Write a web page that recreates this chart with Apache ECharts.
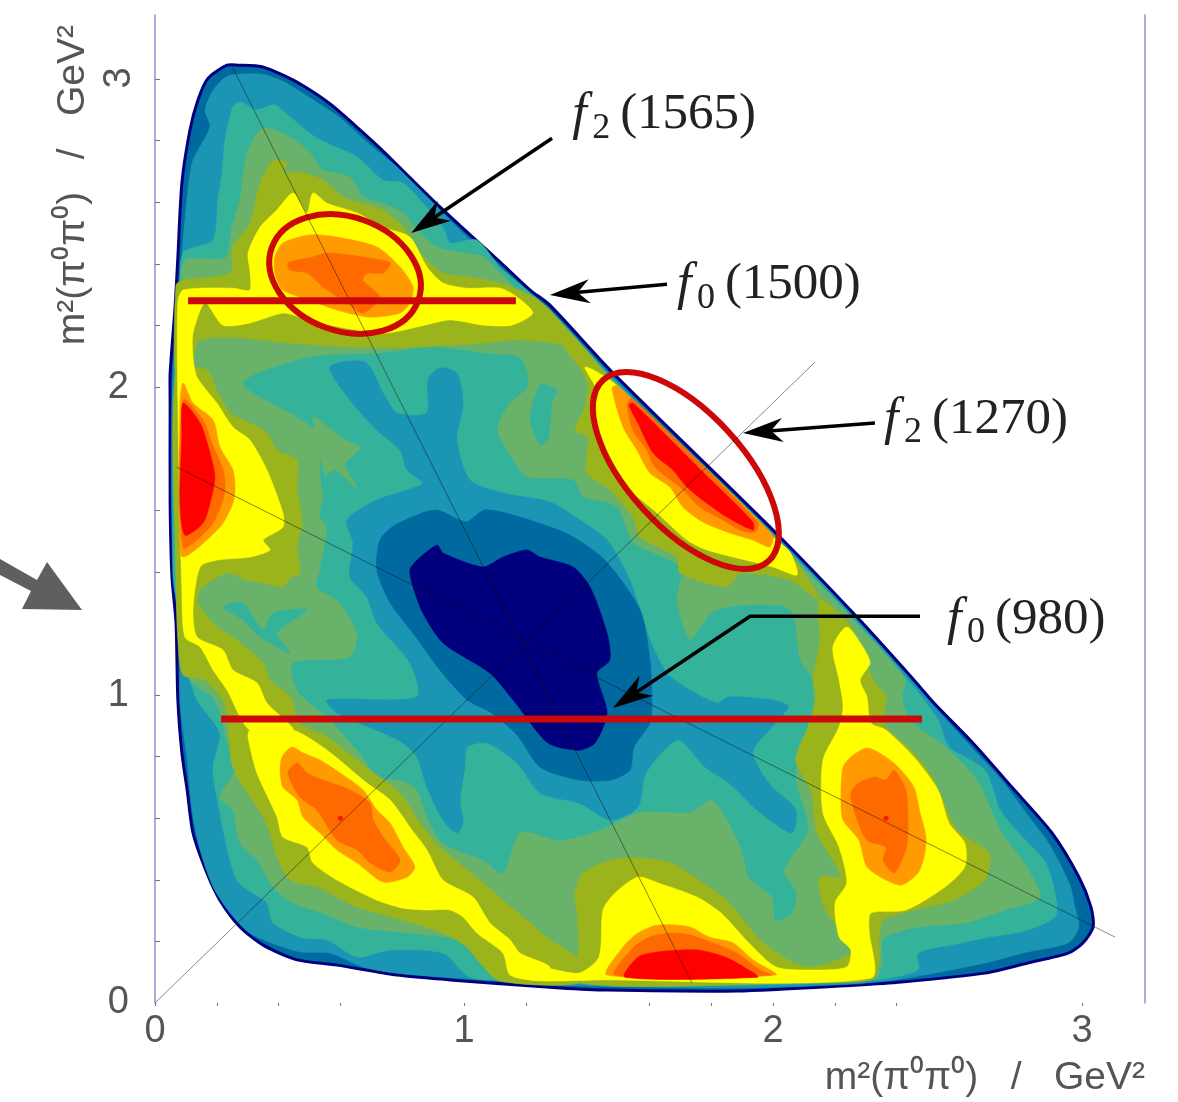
<!DOCTYPE html>
<html><head><meta charset="utf-8">
<style>html,body{margin:0;padding:0;background:#fff}#c{width:1178px;height:1102px}#c canvas{filter:blur(.6px)}</style>
<script src="https://cdn.jsdelivr.net/npm/echarts@6/dist/echarts.min.js"></script>
</head><body><div id="c"></div>
<script>
// Axis ticks
const xTickLabels=[0,1,2,3];
const yTickLabels=[0,1,2];
const xTicks=[0,0.2,0.4,0.6,1,1.2,1.6,1.8,2,2.2,2.4,3];
const yTicks=[0.2,0.4,0.6,0.8,1,1.4,1.6,2,2.2,2.4,2.6,2.8,3];
// Contour bands of the Dalitz plot, in GeV^2 (x = m2, y = m2)
const outerEdge=[[.27,3.045],[.346,3.04],[.42,3.01],[.485,2.975],[.566,2.92],[.647,2.85],[.728,2.776],[.825,2.68],[.922,2.585],[1.02,2.494],[1.117,2.406],[1.214,2.315],[1.278,2.266],[1.479,2.049],[2,1.536],[2.272,1.253],[2.456,1.049],[2.521,.974],[2.647,.844],[2.773,.701],[2.903,.552],[2.99,.409],[3.029,.312],[3.036,.247],[3.003,.195],[2.955,.162],[2.825,.13],[2.686,.097],[2.417,.068],[2.265,.058],[1.883,.039],[1.463,.042],[1.311,.049],[1.084,.065],[.955,.075],[.783,.091],[.589,.123],[.46,.14],[.35,.188],[.275,.247],[.21,.334],[.168,.422],[.123,.552],[.104,.692],[.087,.812],[.074,.984],[.068,1.234],[.055,1.383],[.049,1.623],[.049,1.948],[.049,2.045],[.065,2.26],[.074,2.422],[.087,2.662],[.113,2.834],[.139,2.932],[.172,3.003],[.233,3.045]];
const blueBand=[[.236,3.01],[.346,3.016],[.42,2.99],[.5,2.94],[.6,2.873],[.696,2.786],[.777,2.72],[.858,2.64],[.939,2.558],[1.02,2.477],[1.117,2.386],[1.214,2.295],[1.285,2.244],[1.479,2.036],[2,1.526],[2.272,1.244],[2.456,1.039],[2.521,.964],[2.644,.828],[2.735,.73],[2.832,.6],[2.896,.513],[2.961,.383],[2.977,.312],[2.99,.247],[2.955,.195],[2.825,.166],[2.686,.13],[2.521,.097],[2.392,.075],[2.265,.062],[1.883,.049],[1.311,.058],[1.061,.075],[.783,.097],[.673,.117],[.566,.162],[.469,.166],[.395,.188],[.307,.227],[.243,.292],[.188,.377],[.146,.497],[.12,.627],[.104,.789],[.087,.919],[.081,.984],[.078,1.244],[.058,1.383],[.055,1.958],[.074,2.26],[.091,2.477],[.12,2.727],[.178,2.844],[.162,2.899],[.188,2.964]];
const tealBand=[[.275,2.925],[.33,2.9],[.388,2.916],[.437,2.877],[.524,2.808],[.654,2.747],[.738,2.672],[.803,2.662],[.867,2.597],[.932,2.519],[.955,2.468],[1.042,2.477],[1.117,2.39],[1.278,2.25],[1.479,2.029],[2,1.52],[2.272,1.237],[2.456,1.026],[2.534,.919],[2.57,.831],[2.686,.756],[2.735,.627],[2.786,.562],[2.877,.464],[2.903,.399],[2.916,.286],[2.825,.237],[2.699,.214],[2.608,.195],[2.469,.162],[2.469,.107],[2.33,.075],[1.883,.058],[1.311,.068],[1.172,.075],[1.019,.084],[.932,.162],[.76,.172],[.654,.149],[.557,.205],[.479,.211],[.382,.26],[.362,.325],[.265,.399],[.2,.669],[.188,.766],[.21,.877],[.136,.984],[.097,1.114],[.081,1.244],[.061,1.383],[.061,1.958],[.081,2.25],[.091,2.435],[.188,2.477],[.204,2.607],[.217,2.695],[.227,2.802],[.252,2.909]];
const greenBand=[[.35,2.841],[.437,2.812],[.502,2.76],[.544,2.705],[.631,2.682],[.673,2.617],[.738,2.597],[.803,2.565],[.848,2.51],[.913,2.455],[.997,2.435],[1.062,2.422],[1.172,2.315],[1.278,2.227],[1.479,2.023],[2,1.513],[2.272,1.231],[2.427,1.055],[2.417,.994],[2.443,.919],[2.557,.831],[2.66,.724],[2.735,.562],[2.812,.455],[2.864,.344],[2.751,.302],[2.621,.26],[2.469,.247],[2.392,.227],[2.353,.205],[2.353,.13],[2.33,.078],[1.883,.065],[1.311,.075],[1.181,.081],[1.042,.149],[.977,.205],[.825,.227],[.654,.247],[.544,.292],[.447,.325],[.382,.377],[.33,.464],[.275,.519],[.252,.627],[.21,.669],[.265,.766],[.233,.854],[.194,.984],[.113,1.049],[.091,1.146],[.081,1.244],[.068,1.373],[.068,1.958],[.087,2.283],[.097,2.412],[.227,2.419],[.249,2.519],[.275,2.607],[.298,2.76]];
const tealInner=[[.285,2.013],[.502,2.097],[.738,2.11],[.9,2.13],[1.062,2.11],[1.181,2.094],[1.207,2.006],[1.142,1.942],[1.107,1.86],[1.149,1.779],[1.204,1.708],[1.353,1.698],[1.385,1.643],[1.495,1.61],[1.547,1.494],[1.699,1.416],[1.689,1.308],[1.731,1.179],[1.806,1.269],[1.926,1.292],[2.055,1.276],[2.087,1.114],[2.126,1.049],[2.126,.896],[2.087,.831],[2.074,.724],[2.113,.562],[2.036,.432],[2.074,.357],[2.061,.292],[2.01,.269],[1.997,.344],[1.922,.409],[1.896,.506],[1.806,.659],[1.731,.62],[1.57,.62],[1.44,.562],[1.311,.529],[1.181,.555],[1.126,.422],[1.062,.464],[.932,.519],[.88,.604],[.848,.692],[.793,.724],[.718,.734],[.673,.799],[.566,.919],[.502,.974],[.46,1.016],[.447,1.104],[.631,1.123],[.654,1.201],[.589,1.308],[.524,1.351],[.534,1.406],[.557,1.545],[.534,1.578],[.544,1.643],[.534,1.731],[.544,1.838],[.46,1.903]];
const tealIsland=[[.22,1.286],[.285,1.299],[.35,1.211],[.382,1.266],[.492,1.276],[.395,1.201],[.437,1.136],[.34,1.188],[.285,1.244]];
const tealIslandUpper=[[1.246,2.006],[1.301,1.99],[1.285,1.951],[1.272,1.828],[1.246,1.812],[1.214,1.893]];
const blueInner=[[.566,2.065],[.68,2.081],[.738,1.981],[.783,1.916],[.88,1.916],[.883,2.023],[.922,2.062],[.977,2.045],[.997,1.948],[.977,1.828],[1.019,1.698],[1.126,1.656],[1.278,1.627],[1.375,1.568],[1.463,1.503],[1.537,1.373],[1.602,1.179],[1.657,1.071],[1.731,1.016],[1.819,.974],[1.858,.994],[1.997,.984],[2.049,.961],[1.935,.821],[1.958,.756],[1.997,.701],[2.074,.627],[2.061,.552],[1.948,.627],[1.858,.714],[1.78,.766],[1.693,.854],[1.589,.747],[1.563,.636],[1.476,.594],[1.372,.649],[1.246,.682],[1.172,.779],[1.074,.844],[1.01,.831],[1.003,.766],[.987,.659],[.997,.584],[.977,.552],[.932,.594],[.88,.701],[.848,.799],[.803,.844],[.738,.877],[.589,.942],[.557,.984],[.848,.994],[.825,1.104],[.718,1.234],[.686,1.318],[.631,1.383],[.641,1.494],[.621,1.568],[.718,1.633],[.816,1.666],[.867,1.688],[.816,1.731],[.793,1.795],[.718,1.86],[.631,1.958]];
const darkBlueInner=[[.728,1.503],[.777,1.552],[.906,1.601],[.987,1.568],[1.01,1.562],[1.068,1.601],[1.181,1.578],[1.343,1.519],[1.456,1.438],[1.57,1.276],[1.602,1.114],[1.608,.984],[1.602,.909],[1.55,.831],[1.537,.756],[1.476,.724],[1.372,.724],[1.246,.766],[1.172,.87],[1.084,.945],[1.01,.984],[.922,1.081],[.835,1.201],[.761,1.299],[.718,1.406]];
const navyInner=[[.825,1.406],[.848,1.438],[.913,1.487],[.932,1.461],[1.062,1.416],[1.126,1.448],[1.204,1.471],[1.246,1.448],[1.353,1.416],[1.408,1.351],[1.463,1.201],[1.472,1.114],[1.43,1.071],[1.463,.942],[1.424,.844],[1.372,.821],[1.272,.844],[1.159,.984],[1.084,1.071],[.932,1.169],[.867,1.266],[.835,1.351]];
const greenIsland=[[.511,1.903],[.615,1.828],[.663,1.802],[.615,1.747],[.654,1.672],[.583,1.731],[.55,1.714],[.534,1.812]];
const oliveTop=[[.382,2.737],[.427,2.727],[.414,2.698],[.469,2.698],[.544,2.672],[.608,2.617],[.738,2.575],[.803,2.519],[.858,2.435],[.932,2.37],[1.019,2.357],[1.117,2.338],[1.214,2.299],[1.272,2.256],[1.479,2.016],[1.359,2.088],[1.327,2.136],[1.172,2.153],[1.062,2.143],[.848,2.13],[.631,2.13],[.437,2.143],[.252,2.162],[.146,2.153],[.129,2.12],[.113,2.023],[.068,2.023],[.068,2.331],[.091,2.347],[.243,2.37],[.252,2.455],[.307,2.532],[.34,2.662]];
const oliveEdge=[[1.311,2.153],[1.398,2.023],[1.392,1.935],[1.359,1.86],[1.401,1.838],[1.398,1.721],[1.463,1.675],[1.547,1.578],[1.57,1.513],[1.689,1.448],[1.699,1.396],[1.851,1.351],[1.893,1.396],[2.055,1.373],[2.152,1.308],[2.055,1.461],[2,1.513],[1.479,2.016],[1.366,2.136]];
const oliveRight=[[2.152,1.308],[2.249,1.227],[2.324,1.049],[2.366,.994],[2.356,.909],[2.456,.812],[2.521,.724],[2.596,.562],[2.699,.487],[2.686,.399],[2.583,.334],[2.456,.302],[2.356,.269],[2.343,.205],[2.343,.13],[2.317,.075],[2.087,.065],[1.372,.065],[1.372,.182],[1.366,.302],[1.359,.357],[1.385,.422],[1.476,.464],[1.563,.471],[1.667,.455],[1.793,.377],[1.858,.325],[1.958,.205],[2.049,.14],[2.126,.117],[2.252,.162],[2.227,.227],[2.175,.292],[2.152,.357],[2.152,.409],[2.22,.409],[2.188,.474],[2.139,.562],[2.126,.682],[2.074,.789],[2.113,.896],[2.139,.994],[2.129,1.049],[2.142,1.114],[2.152,1.179]];
const oliveLeft=[[.068,2.055],[.168,2.055],[.2,1.99],[.243,1.916],[.307,1.883],[.362,1.851],[.395,1.795],[.46,1.763],[.46,1.675],[.476,1.558],[.46,1.481],[.469,1.396],[.437,1.38],[.414,1.351],[.34,1.367],[.298,1.373],[.233,1.396],[.146,1.341],[.139,1.299],[.201,1.221],[.265,1.179],[.35,1.104],[.372,1.049],[.437,.994],[.469,.909],[.557,.864],[.696,.756],[.793,.682],[.858,.584],[.922,.506],[1.062,.39],[1.126,.334],[1.204,.269],[1.278,.205],[1.372,.14],[1.372,.065],[1.117,.071],[1.052,.13],[1.01,.182],[.932,.227],[.835,.26],[.654,.312],[.524,.377],[.437,.399],[.395,.474],[.372,.552],[.35,.604],[.252,.766],[.227,.968],[.162,1.049],[.091,1.065],[.074,1.179],[.068,1.39]];
const yellowBottom=[[1.214,.075],[1.246,.114],[1.372,.097],[1.437,.149],[1.45,.302],[1.489,.357],[1.563,.409],[1.628,.39],[1.754,.344],[1.832,.292],[1.922,.195],[2.01,.117],[2.126,.107],[2.239,.117],[2.252,.172],[2.214,.214],[2.201,.325],[2.239,.39],[2.214,.506],[2.162,.617],[2.162,.789],[2.214,.896],[2.227,.961],[2.214,1.049],[2.194,1.156],[2.239,1.221],[2.291,1.156],[2.314,1.104],[2.282,1.049],[2.304,.994],[2.317,.909],[2.366,.886],[2.456,.799],[2.534,.692],[2.57,.584],[2.621,.519],[2.621,.442],[2.557,.377],[2.43,.302],[2.317,.292],[2.311,.237],[2.317,.081],[1.44,.075]];
const yellowLowerLeft=[[.307,.886],[.447,.886],[.557,.821],[.686,.714],[.761,.659],[.825,.571],[.88,.497],[.932,.399],[1.029,.344],[1.084,.26],[1.149,.205],[1.181,.162],[1.278,.117],[1.246,.075],[1.149,.091],[1.126,.162],[1.042,.227],[.997,.279],[.955,.302],[.88,.302],[.803,.308],[.718,.334],[.589,.399],[.511,.455],[.492,.506],[.414,.539],[.395,.604],[.33,.747],[.301,.864]];
const yellowUpperLeft=[[.447,2.63],[.492,2.565],[.511,2.63],[.557,2.597],[.654,2.565],[.738,2.519],[.825,2.487],[.88,2.39],[.932,2.338],[1.01,2.321],[1.117,2.321],[1.172,2.292],[1.223,2.24],[1.155,2.201],[1.062,2.201],[.955,2.218],[.848,2.195],[.738,2.175],[.566,2.201],[.469,2.227],[.414,2.24],[.307,2.208],[.22,2.201],[.162,2.273],[.123,2.175],[.123,2.097],[.136,2.032],[.2,1.948],[.252,1.87],[.307,1.828],[.362,1.731],[.414,1.591],[.414,1.545],[.35,1.503],[.372,1.471],[.307,1.448],[.201,1.438],[.146,1.416],[.123,1.276],[.136,1.188],[.22,1.146],[.252,1.081],[.33,1.039],[.362,.974],[.447,.886],[.307,.886],[.233,1.016],[.188,1.081],[.146,1.156],[.097,1.188],[.087,1.341],[.074,1.958],[.074,2.273],[.091,2.315],[.252,2.321],[.307,2.315],[.307,2.38],[.301,2.435],[.34,2.519],[.395,2.575]];
const yellowEdge=[[1.392,2.065],[1.489,2.01],[2,1.513],[2.055,1.464],[2.078,1.39],[2,1.416],[1.786,1.471],[1.722,1.503],[1.625,1.591],[1.515,1.688],[1.44,1.818],[1.417,1.916],[1.434,1.981]];
const orangeTop=[[.388,2.422],[.414,2.468],[.502,2.494],[.589,2.487],[.718,2.455],[.793,2.39],[.835,2.325],[.825,2.273],[.793,2.24],[.696,2.227],[.589,2.25],[.502,2.282],[.414,2.315],[.388,2.37]];
const orangeLeft=[[.091,2.013],[.123,1.948],[.188,1.893],[.21,1.805],[.252,1.731],[.259,1.675],[.252,1.623],[.21,1.545],[.091,1.448],[.081,1.536],[.081,1.948]];
const orangeLowerLeft=[[.405,.756],[.411,.799],[.443,.831],[.479,.812],[.534,.789],[.599,.747],[.673,.692],[.718,.627],[.761,.584],[.803,.506],[.841,.442],[.816,.409],[.738,.393],[.654,.455],[.589,.497],[.534,.552],[.479,.604],[.46,.659],[.414,.701]];
const orangeRight=[[2.227,.766],[2.252,.799],[2.304,.828],[2.356,.805],[2.405,.766],[2.456,.701],[2.476,.617],[2.495,.539],[2.489,.474],[2.469,.422],[2.417,.383],[2.366,.399],[2.304,.442],[2.278,.529],[2.227,.594],[2.22,.669]];
const orangeBottom=[[1.463,.091],[1.515,.182],[1.563,.227],[1.628,.253],[1.731,.247],[1.793,.214],[1.871,.195],[1.935,.14],[2.01,.091]];
const orangeEdge=[[1.479,1.997],[1.515,1.87],[1.56,1.795],[1.602,1.721],[1.667,1.675],[1.709,1.61],[1.773,1.562],[1.861,1.526],[1.935,1.503],[1.99,1.481],[1.997,1.523],[1.498,2.003]];
const deepTop=[[.43,2.403],[.511,2.422],[.557,2.435],[.673,2.422],[.761,2.403],[.738,2.37],[.686,2.37],[.673,2.347],[.728,2.292],[.673,2.24],[.621,2.273],[.544,2.325],[.492,2.37],[.437,2.38]];
const deepLeft=[[.091,1.958],[.155,1.893],[.184,1.818],[.22,1.731],[.227,1.675],[.217,1.623],[.178,1.545],[.091,1.481]];
const deepLowerLeft=[[.43,.747],[.46,.779],[.492,.747],[.544,.724],[.631,.692],[.696,.649],[.706,.594],[.738,.539],[.793,.464],[.761,.425],[.696,.455],[.654,.497],[.589,.529],[.524,.627],[.469,.669]];
const deepRight=[[2.252,.682],[2.278,.714],[2.33,.734],[2.366,.724],[2.392,.756],[2.43,.692],[2.437,.562],[2.43,.497],[2.392,.422],[2.356,.464],[2.366,.506],[2.304,.529],[2.265,.617]];
const deepBottom=[[1.489,.091],[1.55,.182],[1.602,.214],[1.667,.227],[1.731,.221],[1.806,.195],[1.883,.162],[1.958,.107],[1.997,.091]];
const deepEdge=[[1.528,1.942],[1.547,1.86],[1.592,1.795],[1.618,1.74],[1.699,1.675],[1.764,1.61],[1.838,1.568],[1.893,1.536],[1.942,1.529],[1.951,1.562],[1.544,1.964]];
const redLeft=[[.091,1.948],[.146,1.883],[.178,1.786],[.194,1.708],[.178,1.623],[.155,1.558],[.097,1.519],[.081,1.623],[.087,1.838]];
const redBottom=[[1.521,.084],[1.563,.149],[1.628,.166],[1.754,.172],[1.845,.149],[1.922,.107],[1.951,.084]];
const redEdge=[[1.534,1.942],[1.563,1.883],[1.612,1.786],[1.676,1.731],[1.722,1.675],[1.786,1.623],[1.851,1.578],[1.935,1.536],[1.935,1.562],[1.773,1.724],[1.547,1.948]];
const peakDots=[[.6,.6],[2.366,.6]];
// Symmetry axes
const symmetryLines=[[[0,0],[2.136,2.081]],[[.252,3.036],[1.738,.065]],[[.071,1.74],[3.107,.214]]];
// Resonance bands and ellipses: centre x, centre y, semi-axis a, semi-axis b, tilt in degrees
const resonanceBands=[[[.107,2.28],[1.168,2.28]],[[.214,.922],[2.482,.922]]];
const resonanceEllipses=[[.615,2.367,.252,.185,20],[1.718,1.729,.397,.187,47.6]];
// Arrows and labels
const arrows=[[[1.285,2.808],[.829,2.5]],[[1.657,2.334],[1.278,2.299]],[[2.33,1.883],[1.903,1.851]],[[2.476,1.256],[1.926,1.256],[1.482,.958]]];
const labelPos=[[1.35,2.883],[1.689,2.331],[2.359,1.893],[2.563,1.244]];
const labelSub=['2','0','2','0'];
const labelMass=['(1565)','(1500)','(1270)','(980)'];

const C={navy:'#00007f',dblue:'#00699f',blue:'#1a96b4',teal:'#35b39a',green:'#69b26a',olive:'#9bb41c',yellow:'#ffff00',orange:'#ff9a00',deep:'#ff6a00',red:'#ff0000'};
const layers=[
 [outerEdge,C.dblue,C.navy],[blueBand,C.blue],[tealBand,C.teal],[greenBand,C.green],
 [tealInner,C.teal],[tealIsland,C.teal],[tealIslandUpper,C.teal],[blueInner,C.blue],[darkBlueInner,C.dblue],[navyInner,C.navy],[greenIsland,C.green],
 [oliveTop,C.olive],[oliveEdge,C.olive],[oliveRight,C.olive],[oliveLeft,C.olive],
 [yellowBottom,C.yellow],[yellowLowerLeft,C.yellow],[yellowUpperLeft,C.yellow],[yellowEdge,C.yellow],
 [orangeTop,C.orange],[orangeLeft,C.orange],[orangeLowerLeft,C.orange],[orangeRight,C.orange],[orangeBottom,C.orange],[orangeEdge,C.orange],
 [deepTop,C.deep],[deepLeft,C.deep],[deepLowerLeft,C.deep],[deepRight,C.deep],[deepBottom,C.deep],[deepEdge,C.deep],
 [redLeft,C.red],[redBottom,C.red],[redEdge,C.red]
];
const series=layers.map(([pts,fill,stroke])=>({
  type:'custom',coordinateSystem:'cartesian2d',silent:true,clip:false,data:pts,
  renderItem(p,api){ if(p.dataIndex!==0) return null;
    return {type:'polygon',shape:{points:pts.map(q=>api.coord(q)),smooth:0.25},
      style:{fill:fill,stroke:stroke||fill,lineWidth:stroke?3:0.6}}; }
}));
series.push({type:'scatter',data:peakDots,symbol:'circle',symbolSize:5,itemStyle:{color:C.red},silent:true});
symmetryLines.forEach(l=>series.push({type:'line',data:l,symbol:'none',silent:true,lineStyle:{color:'rgba(20,20,20,.5)',width:1}}));
resonanceBands.forEach(l=>series.push({type:'line',data:l,symbol:'none',silent:true,lineStyle:{color:'#cc0808',width:7,cap:'butt'}}));
series.push({
  type:'custom',silent:true,clip:false,data:resonanceEllipses,
  renderItem(p,api){ const e=resonanceEllipses[p.dataIndex];
    const c=api.coord([e[0],e[1]]),s=api.size([e[2],e[3]]);
    return {type:'ellipse',x:c[0],y:c[1],rotation:-e[4]*Math.PI/180,
      shape:{cx:0,cy:0,rx:s[0],ry:s[1]},style:{fill:'none',stroke:'#cc0808',lineWidth:6}}; }
});
arrows.forEach(a=>series.push({
  type:'custom',silent:true,clip:false,data:a,
  renderItem(p,api){ if(p.dataIndex!==0) return null;
    const pts=a.map(q=>api.coord(q));
    const t=pts[pts.length-1],f=pts[pts.length-2];
    const d=Math.hypot(t[0]-f[0],t[1]-f[1]),ux=(t[0]-f[0])/d,uy=(t[1]-f[1])/d,nx=-uy,ny=ux;
    const at=(b,s)=>[t[0]-ux*b+nx*s,t[1]-uy*b+ny*s];
    const shaft=pts.slice(0,-1).concat([at(26,0)]);
    return {type:'group',children:[
      {type:'polyline',shape:{points:shaft},style:{fill:'none',stroke:'#000',lineWidth:3.5}},
      {type:'polygon',shape:{points:[t,at(40,12),at(28,0),at(40,-12)]},style:{fill:'#000'}}
    ]}; }
}));
series.push({
  type:'custom',silent:true,clip:false,data:labelPos,
  renderItem(p,api){ const c=api.coord(labelPos[p.dataIndex]);
    const serif='"Liberation Serif",serif',col='#222';
    return {type:'group',x:c[0],y:c[1],children:[
      {type:'text',style:{x:0,y:0,text:'f',font:'italic 52px '+serif,fill:col,verticalAlign:'middle'}},
      {type:'text',style:{x:20,y:13,text:labelSub[p.dataIndex],font:'36px '+serif,fill:col,verticalAlign:'middle'}},
      {type:'text',style:{x:48,y:0,text:labelMass[p.dataIndex],font:'51px '+serif,fill:col,verticalAlign:'middle'}}
    ]}; }
});
const axisBlue='#8c90d2',gray='#555';
const chart=echarts.init(document.getElementById('c'),null,{renderer:'canvas'});
chart.setOption({
  animation:false,backgroundColor:'#fff',
  grid:{left:155,right:33,top:15,bottom:99,containLabel:false},
  xAxis:{type:'value',min:0,max:3.204,interval:1,splitLine:{show:false},
    axisLine:{show:false},
    axisTick:{show:true,length:3,customValues:xTicks,lineStyle:{color:'#777'}},
    axisLabel:{customValues:xTickLabels,color:gray,fontFamily:'Liberation Sans',fontSize:38,margin:10,formatter:v=>String(v)},
    name:'m²(π⁰π⁰)   /   GeV²',nameLocation:'end',nameGap:0,
    nameTextStyle:{color:gray,fontFamily:'Liberation Sans',fontSize:39,align:'right',verticalAlign:'top',padding:[56,0,0,0]}},
  yAxis:[{type:'value',min:0,max:3.208,interval:1,splitLine:{show:false},position:'left',
    axisLine:{show:true,onZero:false,lineStyle:{color:axisBlue,width:1.5}},
    axisTick:{show:true,inside:true,length:5,customValues:yTicks,lineStyle:{color:'#777'}},
    axisLabel:{customValues:yTickLabels,color:gray,fontFamily:'Liberation Sans',fontSize:38,margin:26,padding:[5,0,0,0],formatter:v=>String(v)},
    name:'m²(π⁰π⁰)   /   GeV²',nameLocation:'end',nameGap:-10,nameRotate:90,
    nameTextStyle:{color:gray,fontFamily:'Liberation Sans',fontSize:39,align:'right',verticalAlign:'bottom',padding:[0,0,62,0]}},
   {type:'value',min:0,max:3.208,interval:1,position:'right',splitLine:{show:false},
    axisLine:{show:true,onZero:false,lineStyle:{color:axisBlue,width:1.5}},axisTick:{show:false},axisLabel:{show:false}}],
  graphic:[
    {type:'text',x:120,y:78,rotation:Math.PI/2,style:{text:'3',font:'38px "Liberation Sans"',fill:gray,align:'center',verticalAlign:'middle'}},
    {type:'polygon',shape:{points:[[0,559],[37,580],[47,562],[82,610],[22,609],[31,591],[0,575]]},style:{fill:'#5f5f5f'}}
  ],
  series:series
});
</script></body></html>
